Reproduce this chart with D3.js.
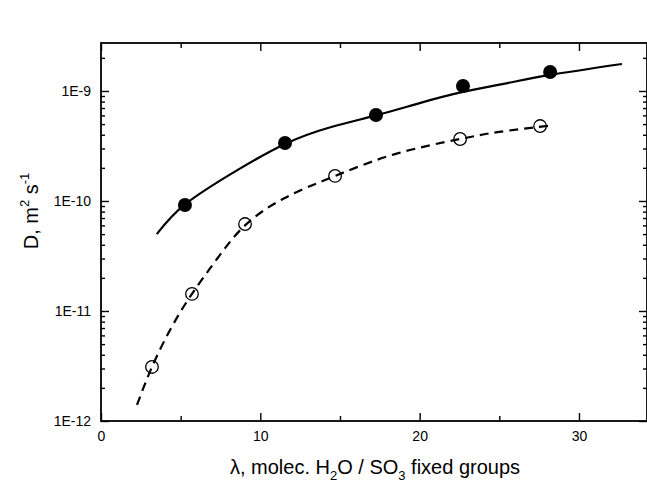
<!DOCTYPE html>
<html>
<head>
<meta charset="utf-8">
<script src="https://cdn.jsdelivr.net/npm/d3@7"></script>
<style>
  body{margin:0;background:#fff;}
  svg text{font-family:Arial,"Liberation Sans",sans-serif;fill:#000;}
  .axis path,.axis line{stroke:#000;}
</style>
</head>
<body>
<svg id="chart"></svg>
<script>
var width = 647;
var height = 486;
var margin = {top:43,left:101,right:0,bottom:65};

// measured points (lambda, D)
var filledX = [5.27, 11.55, 17.26, 22.72, 28.19];
var filledD = [9.2e-11, 3.37e-10, 6.05e-10, 1.11e-9, 1.49e-9];
var openX = [3.2, 5.71, 9.04, 14.69, 22.54, 27.56];
var openD = [3.1e-12, 1.43e-11, 6.17e-11, 1.69e-10, 3.66e-10, 4.8e-10];

// fitted curves
var solidX = [3.5, 5.27, 8.4, 11.55, 14.4, 17.26, 20.0, 22.72, 25.5, 28.19, 32.7];
var solidD = [5.0e-11, 9.3e-11, 1.85e-10, 3.3e-10, 4.68e-10, 6.0e-10, 7.76e-10, 9.8e-10, 1.18e-9, 1.4e-9, 1.76e-9];
var dashX = [2.26, 3.2, 4.4, 5.71, 7.3, 9.04, 11.5, 14.69, 18.5, 22.54, 25.0, 28.2];
var dashD = [1.4e-12, 3.1e-12, 7.0e-12, 1.43e-11, 3.0e-11, 6.0e-11, 1.06e-10, 1.69e-10, 2.68e-10, 3.66e-10, 4.25e-10, 4.85e-10];

var xTicks = [0, 10, 20, 30];
var xMinor = [5, 15, 25];
var yTicks = [1e-12, 1e-11, 1e-10, 1e-9];

var x = d3.scaleLinear().domain([0, 34.27]).range([margin.left, width - margin.right]);
var y = d3.scaleLog().domain([1e-12, 2.73e-9]).range([height - margin.bottom, margin.top]);

var yMinor = [];
yTicks.forEach(function(t){
  for (var k = 2; k <= 9; k++) {
    var v = t * k;
    if (v <= y.domain()[1]) yMinor.push(v);
  }
});

var svg = d3.select('#chart').attr('width', width).attr('height', height);

//axes, ticks inward
var x0 = x.range()[0], x1 = x.range()[1];
var y0 = y.range()[0], y1 = y.range()[1];

svg.append('g').attr('class','axis').attr('transform','translate(0,'+y0+')')
  .call(d3.axisBottom(x).tickValues(xTicks).tickSize(-8).tickPadding(10).tickFormat(d3.format('d')));
svg.append('g').attr('class','axis').attr('transform','translate(0,'+y0+')')
  .call(d3.axisBottom(x).tickValues(xMinor).tickSize(-5).tickFormat(''));
svg.append('g').attr('class','axis').attr('transform','translate(0,'+y1+')')
  .call(d3.axisTop(x).tickValues(xTicks).tickSize(-8).tickFormat(''));
svg.append('g').attr('class','axis').attr('transform','translate(0,'+y1+')')
  .call(d3.axisTop(x).tickValues(xMinor).tickSize(-5).tickFormat(''));

svg.append('g').attr('class','axis').attr('transform','translate('+x0+',0)')
  .call(d3.axisLeft(y).tickValues(yTicks).tickSize(-8).tickPadding(10)
    .tickFormat(function(d){ return '1E' + Math.round(Math.log10(d)); }));
svg.append('g').attr('class','axis').attr('transform','translate('+x0+',0)')
  .call(d3.axisLeft(y).tickValues(yMinor).tickSize(-4).tickFormat(''));
svg.append('g').attr('class','axis').attr('transform','translate('+x1+',0)')
  .call(d3.axisRight(y).tickValues(yTicks).tickSize(-8).tickFormat(''));
svg.append('g').attr('class','axis').attr('transform','translate('+x1+',0)')
  .call(d3.axisRight(y).tickValues(yMinor).tickSize(-4).tickFormat(''));

svg.selectAll('.axis path').attr('d', null);
svg.selectAll('.axis line').attr('stroke-width',1.4);
svg.selectAll('.axis text').attr('font-size',14);

// frame
svg.append('rect').attr('x',x0).attr('y',y1).attr('width',x1-x0).attr('height',y0-y1)
  .attr('fill','none').attr('stroke','#000').attr('stroke-width',1.8);

// curves
var line = d3.line().x(function(d){ return x(d[0]); }).y(function(d){ return y(d[1]); })
  .curve(d3.curveNatural);
svg.append('path').datum(d3.zip(solidX, solidD)).attr('d', line)
  .attr('fill','none').attr('stroke','#000').attr('stroke-width',2.2);
svg.append('path').datum(d3.zip(dashX, dashD)).attr('d', line)
  .attr('fill','none').attr('stroke','#000').attr('stroke-width',2.2).attr('stroke-dasharray','9,6');

// markers
svg.append('g').selectAll('circle').data(d3.zip(filledX, filledD)).enter()
  .append('circle').attr('cx',function(d){ return x(d[0]); }).attr('cy',function(d){ return y(d[1]); })
  .attr('r',7).attr('fill','#000');
svg.append('g').selectAll('circle').data(d3.zip(openX, openD)).enter()
  .append('circle').attr('cx',function(d){ return x(d[0]); }).attr('cy',function(d){ return y(d[1]); })
  .attr('r',6.3).attr('fill','none').attr('stroke','#000').attr('stroke-width',1.3);

// titles
var xt = svg.append('text').attr('x',375).attr('y',474).attr('text-anchor','middle').attr('font-size',20);
xt.append('tspan').text('\u03bb, molec. H');
xt.append('tspan').attr('font-size',13).attr('dy',6).text('2');
xt.append('tspan').attr('dy',-6).text('O / SO');
xt.append('tspan').attr('font-size',13).attr('dy',6).text('3');
xt.append('tspan').attr('dy',-6).text(' fixed groups');

var yt = svg.append('text').attr('transform','translate(38,211) rotate(-90)')
  .attr('text-anchor','middle').attr('font-size',20);
yt.append('tspan').text('D, m');
yt.append('tspan').attr('font-size',13).attr('dy',-9).text('2');
yt.append('tspan').attr('dy',9).text(' s');
yt.append('tspan').attr('font-size',13).attr('dy',-9).text('-1');
</script>
</body>
</html>
